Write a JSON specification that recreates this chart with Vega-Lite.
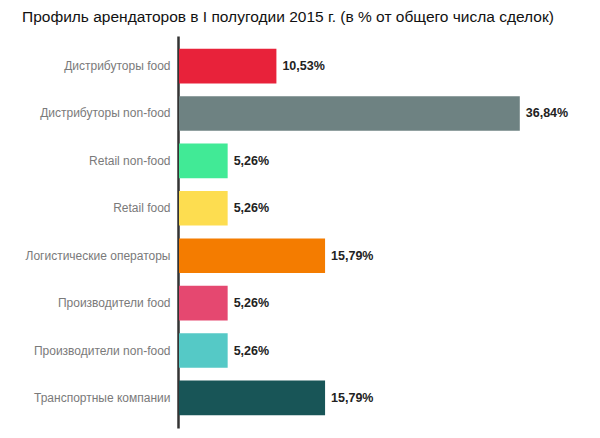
{
  "$schema": "https://vega.github.io/schema/vega-lite/v6.json",
  "autosize": "none",
  "width": 400,
  "height": 392,
  "padding": {"left": 178, "top": 36, "right": 22, "bottom": 10},
  "background": "white",
  "title": {
    "text": "Профиль арендаторов в I полугодии 2015 г. (в % от общего числа сделок)",
    "anchor": "start",
    "frame": "group",
    "dx": -156,
    "fontSize": 15.5,
    "fontWeight": "normal",
    "font": "Liberation Sans",
    "color": "#111111",
    "offset": 11
  },
  "data": {
    "values": [
      {"category": "Дистрибуторы food", "value": 10.53, "label": "10,53%"},
      {"category": "Дистрибуторы  non-food", "value": 36.84, "label": "36,84%"},
      {"category": "Retail non-food", "value": 5.26, "label": "5,26%"},
      {"category": "Retail food", "value": 5.26, "label": "5,26%"},
      {"category": "Логистические операторы", "value": 15.79, "label": "15,79%"},
      {"category": "Производители food", "value": 5.26, "label": "5,26%"},
      {"category": "Производители non-food", "value": 5.26, "label": "5,26%"},
      {"category": "Транспортные компании", "value": 15.79, "label": "15,79%"}
    ]
  },
  "encoding": {
    "y": {
      "field": "category",
      "type": "nominal",
      "sort": null,
      "scale": {"paddingInner": 0.27, "paddingOuter": 0.27},
      "axis": {
        "title": null,
        "ticks": false,
        "domainColor": "#333333",
        "domainWidth": 2.5,
        "labelFont": "Liberation Sans",
        "labelFontSize": 12,
        "labelColor": "#7a7a7a",
        "labelPadding": 8,
        "labelLimit": 200
      }
    },
    "x": {
      "field": "value",
      "type": "quantitative",
      "scale": {"domain": [0, 43.24]},
      "axis": null
    }
  },
  "layer": [
    {
      "mark": {"type": "bar", "xOffset": 1},
      "encoding": {
        "color": {
          "field": "category",
          "type": "nominal",
          "legend": null,
          "scale": {
            "domain": ["Дистрибуторы food", "Дистрибуторы  non-food", "Retail non-food", "Retail food", "Логистические операторы", "Производители food", "Производители non-food", "Транспортные компании"],
            "range": ["#E8223A", "#6E8282", "#41EA96", "#FDDD50", "#F47C00", "#E54870", "#55C9C6", "#185557"]
          }
        }
      }
    },
    {
      "mark": {"type": "text", "align": "left", "dx": 7, "font": "Liberation Sans", "fontSize": 12.5, "fontWeight": "bold", "color": "#222222"},
      "encoding": {"text": {"field": "label"}}
    }
  ],
  "config": {"view": {"stroke": null}}
}
